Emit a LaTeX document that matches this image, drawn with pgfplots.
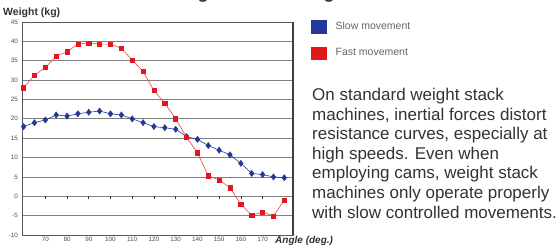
\documentclass[border=0pt]{standalone}
\usepackage{pgfplots}
\pgfplotsset{compat=1.18}
\usepackage{fontspec}
\setmainfont{Liberation Sans}
\definecolor{slowc}{HTML}{22399A}
\definecolor{fastc}{HTML}{E3161E}
\definecolor{txt}{HTML}{333333}
\begin{document}
\begin{tikzpicture}
\useasboundingbox (0,0) rectangle (559pt,246pt);
\clip (0,0) rectangle (559pt,246pt);
\fill[white] (0,0) rectangle (559pt,246pt);
\node[anchor=base east, font=\bfseries\fontsize{18}{18}\selectfont, text=txt, inner sep=0] at (481pt,247pt) {Resistance curve using standard weight stack machine};
\begin{axis}[
  at={(22.5pt,11pt)}, anchor=south west,
  scale only axis, width=270.5pt, height=213pt,
  xmin=59.5, xmax=184, ymin=-10, ymax=45,
  ytick={-10,-5,...,45},
  xtick={70,80,...,170},
  major tick length=0pt,
  ymajorgrids, grid style={black!50, line width=0.7pt},
  axis line style={black!65, line width=0.8pt},
  /pgf/number format/assume math mode=true,
  tick label style={font=\fontsize{6.3}{6.3}\selectfont, text=black!70},
  yticklabel style={xshift=-1pt},
  xticklabel style={yshift=1.5pt},
  legend style={at={(1.067,1.01)}, anchor=north west, draw=none, fill=none,
    font=\fontsize{10.5}{10.5}\selectfont, text=black!60, row sep=13pt, inner sep=0pt,
    nodes={inner sep=0pt}},
  legend cell align=left,
]
\addplot[color=slowc, line width=0.6pt, mark=diamond*, mark size=3pt,
  legend image code/.code={\fill[slowc] (0pt,-6.5pt) rectangle (15pt,6.5pt); \path[draw=none] (0pt,0pt) -- (24pt,0pt);}]
coordinates {(60,18) (65,19) (70,19.7) (75,21) (80,20.7) (85,21.3) (90,21.7) (95,22) (100,21.3) (105,21) (110,20) (115,19) (120,18) (125,17.7) (130,17.3) (135,15.4) (140,14.7) (145,13.1) (150,11.9) (155,10.7) (160,8.5) (165,5.9) (170,5.6) (175,5.0) (180,4.8)};
\addlegendentry{Slow movement}
\addplot[color=fastc!80, line width=0.6pt, mark=square*, mark size=2.1pt, mark options={fill=fastc, draw=fastc},
  legend image code/.code={\fill[fastc] (0pt,-6pt) rectangle (15pt,6pt); \path[draw=none] (0pt,0pt) -- (24pt,0pt);}]
coordinates {(60,28) (65,31.3) (70,33.2) (75,36.2) (80,37.3) (85,39.3) (90,39.6) (95,39.3) (100,39.3) (105,38.2) (110,35.2) (115,32.2) (120,27.3) (125,24) (130,20) (135,15.3) (140,11.2) (145,5.3) (150,4.2) (155,2.2) (160,-2.1) (165,-4.9) (170,-4.1) (175,-5.1) (180,-1.0)};
\addlegendentry{Fast movement}
\end{axis}
\begin{axis}[
  at={(22.5pt,11pt)}, anchor=south west,
  scale only axis, width=270.5pt, height=213pt,
  xmin=59.5, xmax=184, ymin=-10, ymax=45,
  axis x line=middle, axis y line=none,
  x axis line style={draw=none, -},
  xtick={70,80,...,170}, xticklabels={},
  tick align=outside, major tick length=3pt,
  tick style={black!80, line width=0.7pt},
]
\end{axis}
\draw[black!75, line width=1.2pt] (293pt,11pt) -- (293pt,224pt);
\node[anchor=west, font=\bfseries\itshape\fontsize{10}{10}\selectfont, text=txt, inner sep=0] at (275pt,5.5pt) {Angle (deg.)};
\node[anchor=west, font=\bfseries\fontsize{10.5}{10.5}\selectfont, text=txt, inner sep=0] at (3pt,233pt) {Weight (kg)};
\node[anchor=north west, align=left, font=\fontsize{17}{19.6}\selectfont, text=txt, inner sep=0] at (312pt,158pt)
{On standard weight stack\\machines, inertial forces distort\\resistance curves, especially at\\high speeds. Even when\\employing cams, weight stack\\machines only operate properly\\with slow controlled movements.};
\end{tikzpicture}
\end{document}
